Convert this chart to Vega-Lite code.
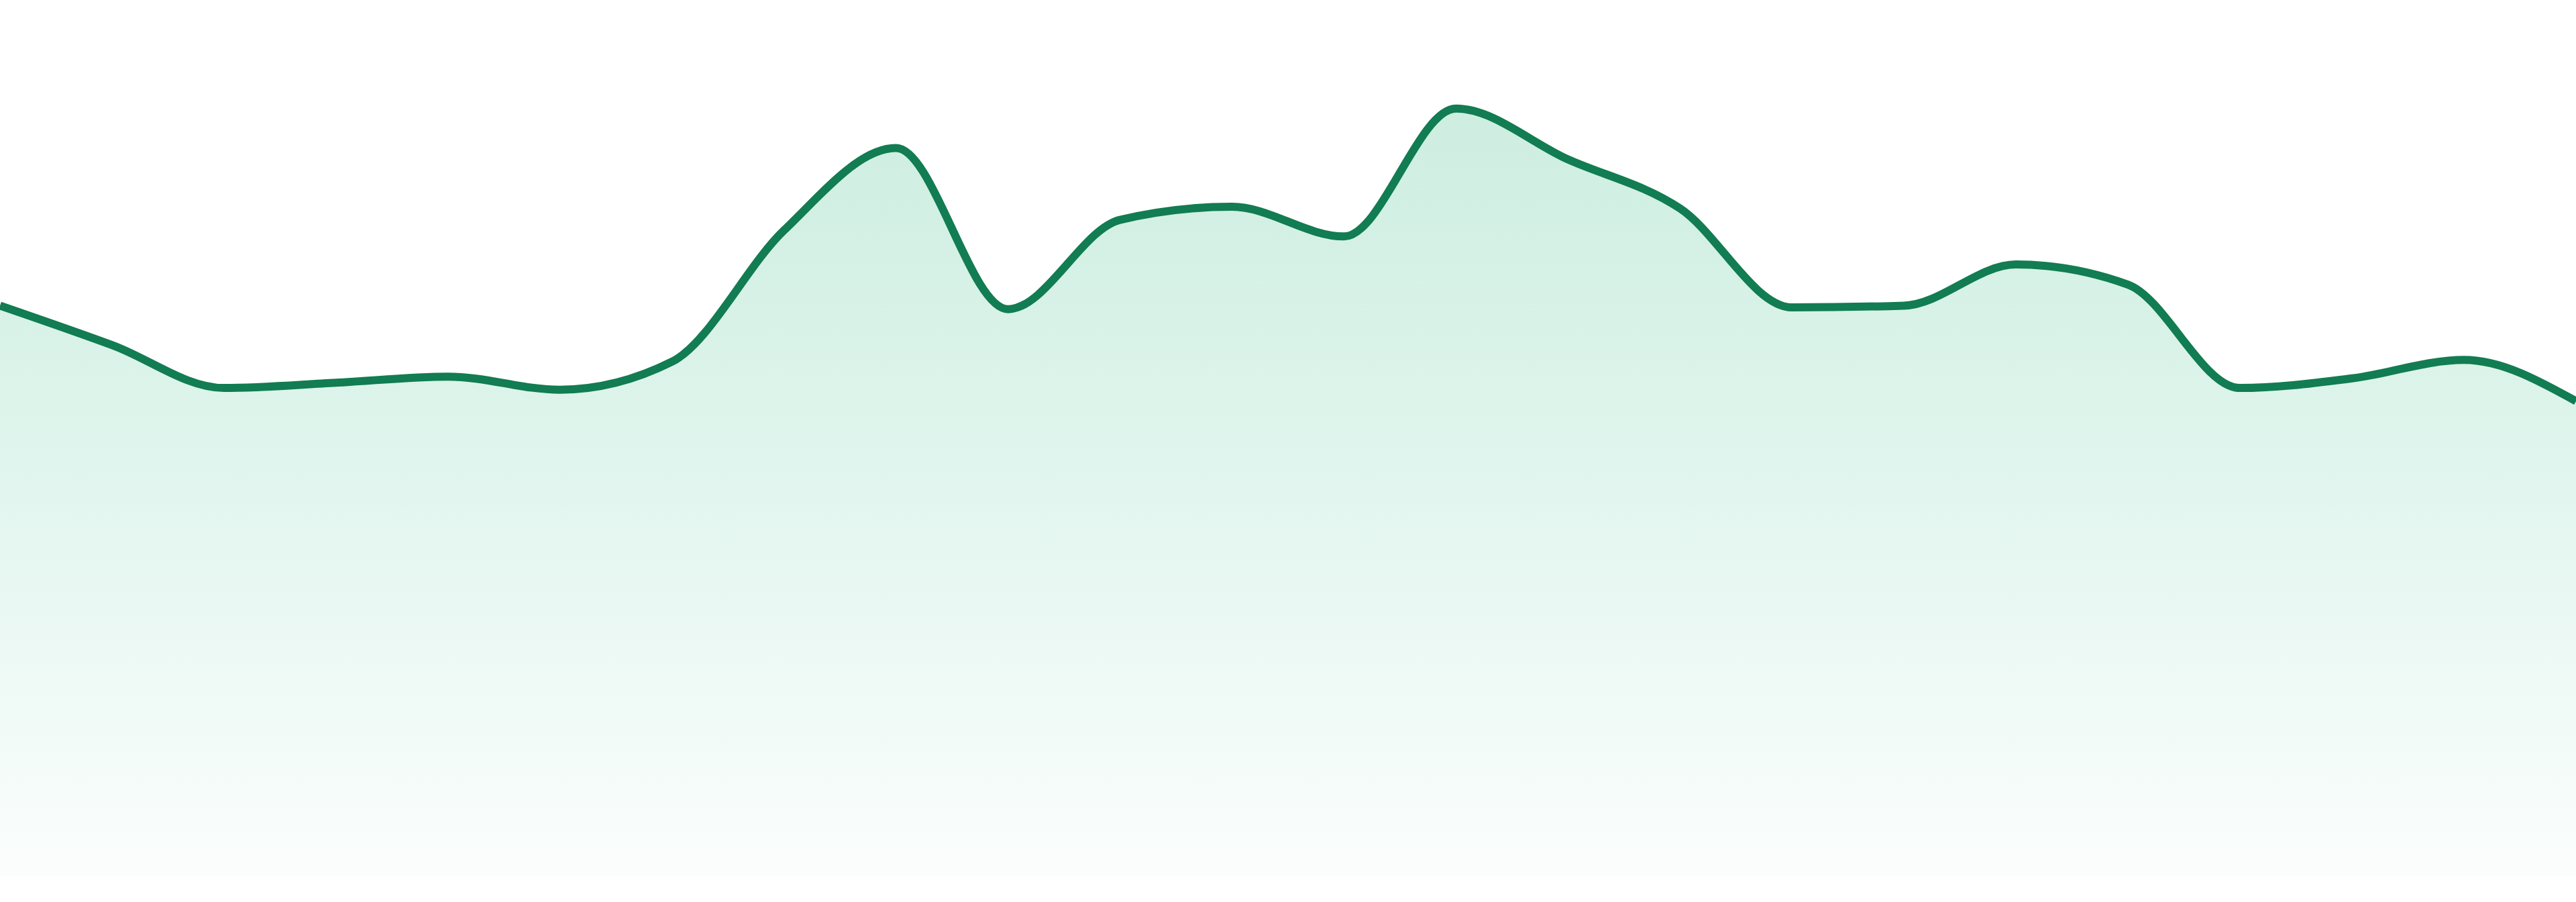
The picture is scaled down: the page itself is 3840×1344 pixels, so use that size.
{
  "$schema": "https://vega.github.io/schema/vega-lite/v6.json",
  "width": 3840,
  "height": 1305,
  "autosize": {"type": "none"},
  "padding": 0,
  "background": "white",
  "data": {
    "values": [
      {"step": 0, "value": 65.1},
      {"step": 1, "value": 60.6},
      {"step": 2, "value": 55.7},
      {"step": 3, "value": 56.3},
      {"step": 4, "value": 57.0},
      {"step": 5, "value": 55.5},
      {"step": 6, "value": 58.7},
      {"step": 7, "value": 73.7},
      {"step": 8, "value": 83.1},
      {"step": 9, "value": 64.7},
      {"step": 10, "value": 74.9},
      {"step": 11, "value": 76.4},
      {"step": 12, "value": 73.0},
      {"step": 13, "value": 87.6},
      {"step": 14, "value": 81.8},
      {"step": 15, "value": 76.2},
      {"step": 16, "value": 64.9},
      {"step": 17, "value": 65.1},
      {"step": 18, "value": 69.8},
      {"step": 19, "value": 67.5},
      {"step": 20, "value": 55.7},
      {"step": 21, "value": 56.8},
      {"step": 22, "value": 58.9},
      {"step": 23, "value": 54.2}
    ]
  },
  "mark": {
    "type": "area",
    "interpolate": "monotone",
    "line": {"color": "#127c52", "strokeWidth": 12},
    "color": {
      "gradient": "linear",
      "x1": 0, "y1": 0, "x2": 0, "y2": 1,
      "stops": [
        {"offset": 0, "color": "#b8e6d3"},
        {"offset": 0.47, "color": "#d3f1e6"},
        {"offset": 1, "color": "#fafdfc"}
      ]
    }
  },
  "encoding": {
    "x": {
      "field": "step",
      "type": "quantitative",
      "scale": {"domain": [0, 23], "nice": false, "zero": false},
      "axis": null
    },
    "y": {
      "field": "value",
      "type": "quantitative",
      "scale": {"domain": [0, 100], "nice": false},
      "axis": null
    }
  },
  "config": {"view": {"stroke": null}}
}
